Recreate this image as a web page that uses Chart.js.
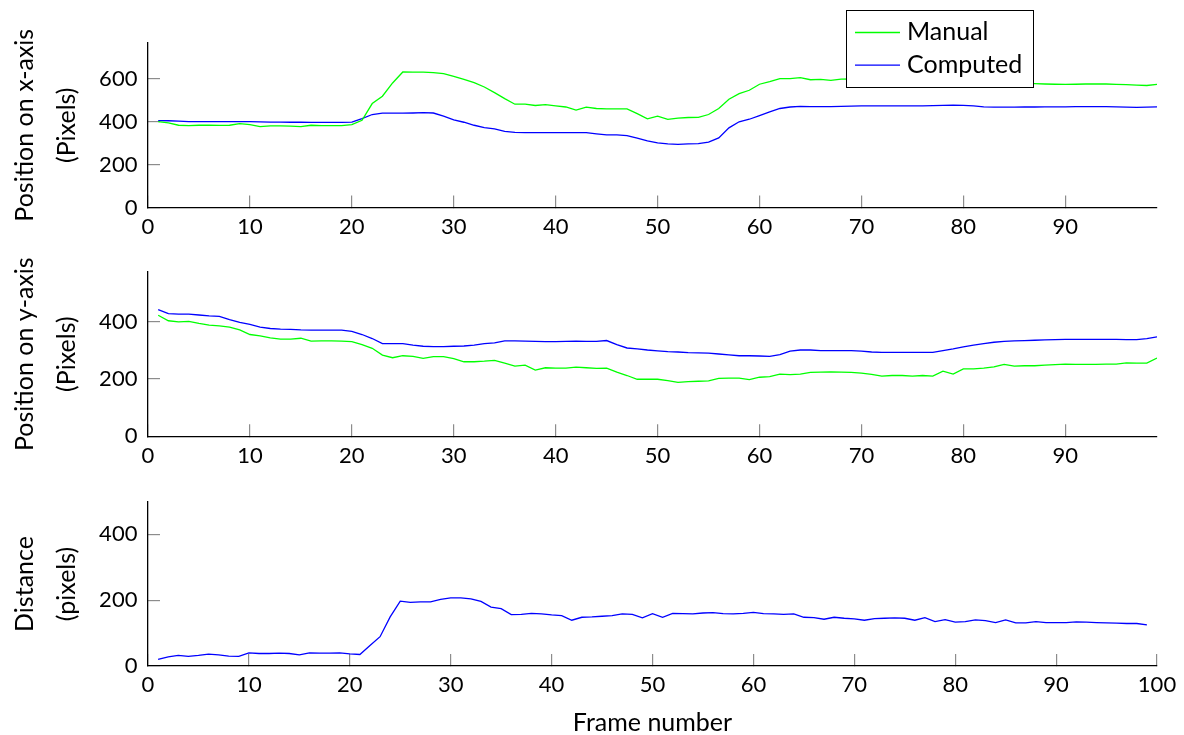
<!DOCTYPE html>
<html>
<head>
<meta charset="utf-8">
<script src="https://cdn.jsdelivr.net/npm/chart.js@4"></script>
<style>
  html, body { margin: 0; padding: 0; background: #fff; overflow: hidden; }
  canvas { position: absolute; left: 0; }
  #graficoX { top: 0; }
  #graficoY { top: 240px; }
  #graficoDist { top: 480px; }
</style>
</head>
<body>
<canvas id="graficoX" width="1184" height="240"></canvas>
<canvas id="graficoY" width="1184" height="240"></canvas>
<canvas id="graficoDist" width="1184" height="255"></canvas>
<script>
// Frames (eixo x comum aos três gráficos)
const frames = [
  1, 2, 3, 4, 5, 6, 7, 8, 9, 10, 11, 12, 13, 14, 15, 16, 17, 18, 19, 20,
  21, 22, 23, 24, 25, 26, 27, 28, 29, 30, 31, 32, 33, 34, 35, 36, 37, 38, 39, 40,
  41, 42, 43, 44, 45, 46, 47, 48, 49, 50, 51, 52, 53, 54, 55, 56, 57, 58, 59, 60,
  61, 62, 63, 64, 65, 66, 67, 68, 69, 70, 71, 72, 73, 74, 75, 76, 77, 78, 79, 80,
  81, 82, 83, 84, 85, 86, 87, 88, 89, 90, 91, 92, 93, 94, 95, 96, 97, 98, 99
];

// Posição x (pixels)
const manualX = [
  400, 394, 383, 381, 383, 383, 382, 383, 391, 386, 377, 380, 380, 379, 377, 383, 381, 381, 381, 386,
  406, 484, 518, 580, 631, 630, 630, 628, 623, 611, 597, 581, 561, 535, 507, 481, 481, 475, 479, 473,
  468, 454, 467, 461, 459, 459, 459, 437, 413, 425, 410, 416, 419, 420, 433, 461, 504, 530, 546, 574,
  586, 600, 600, 605, 595, 597, 592, 598, 599, 597, 598, 596, 594, 595, 593, 591, 592, 590, 588, 589,
  586, 584, 583, 581, 579, 578, 577, 575, 574, 573, 574, 575, 576, 575, 573, 572, 570, 568, 573
];
const computedX = [
  405, 404, 402, 400, 400, 400, 400, 400, 400, 400, 399, 398, 398, 397, 397, 396, 396, 396, 396, 398,
  414, 433, 439, 439, 439, 440, 442, 440, 425, 408, 397, 383, 372, 366, 354, 350, 349, 349, 349, 349,
  349, 349, 349, 343, 338, 338, 335, 323, 310, 301, 296, 294, 296, 297, 304, 324, 371, 399, 411, 428,
  445, 461, 468, 471, 470, 470, 470, 471, 472, 473, 473, 473, 473, 473, 473, 473, 474, 476, 477, 476,
  473, 469, 467, 467, 467, 468, 468, 469, 469, 469, 470, 470, 470, 470, 469, 467, 466, 467, 469
];

// Posição y (pixels)
const manualY = [
  422, 403, 399, 401, 394, 388, 385, 381, 371, 355, 350, 343, 339, 339, 342, 332, 333, 333, 332, 330,
  320, 307, 283, 274, 281, 279, 272, 278, 278, 271, 260, 260, 262, 265, 255, 245, 248, 231, 239, 238,
  238, 241, 239, 237, 238, 224, 212, 199, 199, 199, 194, 188, 191, 192, 193, 202, 203, 203, 198, 206,
  208, 217, 215, 217, 223, 224, 225, 224, 223, 220, 216, 210, 212, 212, 210, 212, 210, 227, 217, 235,
  235, 238, 242, 251, 245, 246, 246, 248, 250, 252, 251, 251, 251, 252, 252, 256, 255, 255, 273
];
const computedY = [
  442, 428, 426, 426, 423, 420, 418, 407, 397, 390, 381, 376, 374, 373, 371, 370, 370, 370, 370, 366,
  355, 341, 323, 323, 323, 318, 314, 313, 313, 314, 315, 318, 323, 326, 333, 333, 332, 331, 330, 330,
  331, 332, 331, 331, 334, 320, 308, 305, 301, 298, 295, 294, 292, 291, 290, 287, 284, 281, 281, 280,
  279, 285, 297, 301, 301, 299, 299, 299, 299, 297, 294, 293, 293, 293, 293, 293, 293, 299, 305, 312,
  318, 323, 328, 331, 333, 334, 335, 336, 337, 338, 338, 338, 338, 338, 338, 337, 337, 341, 347
];

// Distância (pixels)
const distancia = [
  20, 28, 32, 29, 32, 36, 34, 30, 29, 40, 38, 38, 39, 38, 34, 40, 39, 39, 40, 37,
  35, 62, 89, 149, 197, 193, 195, 195, 202, 207, 207, 204, 196, 179, 174, 156, 157, 160, 158, 155,
  153, 139, 148, 149, 151, 153, 158, 157, 146, 159, 148, 160, 159, 158, 161, 162, 159, 158, 160, 163,
  159, 158, 157, 158, 148, 147, 142, 148, 145, 143, 139, 144, 145, 146, 145, 139, 147, 135, 141, 133,
  135, 140, 138, 132, 140, 131, 131, 135, 132, 132, 132, 134, 133, 132, 131, 130, 129, 129, 125
];

// Rótulos dos eixos
const ticksFrame = [0, 10, 20, 30, 40, 50, 60, 70, 80, 90];
const ticksFrame3 = [0, 10, 20, 30, 40, 50, 60, 70, 80, 90, 100];
const ticksPosX = [0, 200, 400, 600];
const ticksPosY = [0, 200, 400];
const ticksDist = [0, 200, 400];

Chart.defaults.font.family = 'Lato';
Chart.defaults.color = '#000';

const VERDE = 'rgb(0, 255, 0)';
const AZUL = 'rgb(0, 0, 255)';

function pontos(valores) {
  return valores.map((v, i) => ({ x: frames[i], y: v }));
}

function serie(label, cor, valores) {
  return {
    label: label,
    data: pontos(valores),
    borderColor: cor,
    backgroundColor: cor,
    borderWidth: 1.3,
    pointRadius: 0,
    tension: 0,
    fill: false
  };
}

// Traços dos ticks para dentro do gráfico (tickLength negativo)
const gradeEixo = { drawOnChartArea: false, drawTicks: true, tickLength: -12, color: 'rgba(0,0,0,0.45)', lineWidth: 1.2 };
const bordaEixo = { color: '#000', width: 1.3 };

function eixoX(max, ticks, altura, titulo) {
  return {
    type: 'linear',
    min: 0,
    max: max,
    afterBuildTicks: s => { s.ticks = ticks.map(v => ({ value: v })); },
    afterFit: s => {
      s.height = altura;
      // sem recuo extra nas pontas: a área do gráfico fica fixa
      s.paddingLeft = 0;
      s.paddingRight = 0;
    },
    grid: gradeEixo,
    border: bordaEixo,
    ticks: { font: { size: 22 }, padding: 18, maxRotation: 0, autoSkip: false },
    title: titulo
      ? { display: true, text: titulo, font: { size: 25, lineHeight: 1.0 }, padding: 0 }
      : { display: false }
  };
}

function eixoY(max, ticks, titulo) {
  return {
    type: 'linear',
    min: 0,
    max: max,
    afterBuildTicks: s => { s.ticks = ticks.map(v => ({ value: v })); },
    afterFit: s => {
      s.width = 148;
      s.paddingTop = 0;
      s.paddingBottom = 0;
    },
    grid: gradeEixo,
    border: bordaEixo,
    ticks: { font: { size: 22 }, padding: 22.6 },
    title: { display: true, text: titulo, font: { size: 25, lineHeight: 1.68 }, padding: { top: 3.5, bottom: 0 } }
  };
}

// Legenda em caixa, desenhada por cima do primeiro gráfico
const legendaCaixa = {
  id: 'legendaCaixa',
  afterDraw(chart) {
    const ctx = chart.ctx;
    ctx.save();
    ctx.fillStyle = '#fff';
    ctx.fillRect(846, 10, 187, 77);
    ctx.strokeStyle = '#000';
    ctx.lineWidth = 1;
    ctx.strokeRect(846.5, 10.5, 187, 77);
    chart.data.datasets.forEach((ds, i) => {
      const y = 32.5 + i * 32.7;
      ctx.strokeStyle = ds.borderColor;
      ctx.lineWidth = 1.3;
      ctx.beginPath();
      ctx.moveTo(855, y);
      ctx.lineTo(900, y);
      ctx.stroke();
      ctx.fillStyle = '#000';
      ctx.font = '25px Lato';
      ctx.textBaseline = 'alphabetic';
      ctx.fillText(ds.label, 907, y + 7.6);
    });
    ctx.restore();
  }
};

const graficoX = new Chart(document.getElementById('graficoX'), {
  type: 'line',
  data: { datasets: [serie('Manual', VERDE, manualX), serie('Computed', AZUL, computedX)] },
  options: {
    responsive: false,
    animation: false,
    layout: { padding: { top: 43, right: 27, left: 0, bottom: 0 } },
    plugins: { legend: { display: false }, tooltip: { enabled: false } },
    scales: {
      x: eixoX(99, ticksFrame, 32.5, null),
      y: eixoY(766, ticksPosX, ['Position on x-axis', '(Pixels)'])
    }
  },
  plugins: [legendaCaixa]
});

const graficoY = new Chart(document.getElementById('graficoY'), {
  type: 'line',
  data: { datasets: [serie('Manual', VERDE, manualY), serie('Computed', AZUL, computedY)] },
  options: {
    responsive: false,
    animation: false,
    layout: { padding: { top: 32, right: 27, left: 0, bottom: 0 } },
    plugins: { legend: { display: false }, tooltip: { enabled: false } },
    scales: {
      x: eixoX(99, ticksFrame, 43.7, null),
      y: eixoY(573, ticksPosY, ['Position on y-axis', '(Pixels)'])
    }
  }
});

const graficoDist = new Chart(document.getElementById('graficoDist'), {
  type: 'line',
  data: { datasets: [serie('Distance', AZUL, distancia)] },
  options: {
    responsive: false,
    animation: false,
    layout: { padding: { top: 22, right: 27, left: 0, bottom: 0 } },
    plugins: { legend: { display: false }, tooltip: { enabled: false } },
    scales: {
      x: eixoX(100, ticksFrame3, 69, 'Frame number'),
      y: eixoY(498, ticksDist, ['Distance', '(pixels)'])
    }
  }
});
</script>
</body>
</html>
